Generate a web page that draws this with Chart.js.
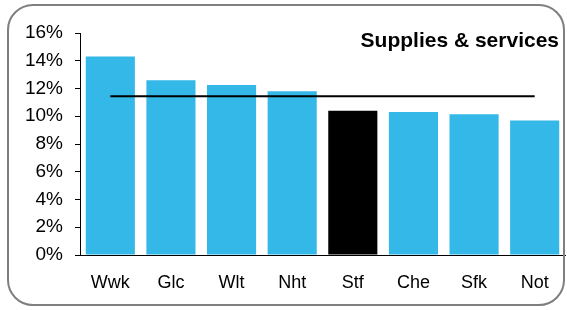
<!DOCTYPE html>
<html>
<head>
<meta charset="utf-8">
<script src="https://cdn.jsdelivr.net/npm/chart.js@4/dist/chart.umd.min.js"></script>
<style>
  html, body { margin: 0; padding: 0; background: #fff; }
  #wrap { position: relative; width: 567px; height: 310px; }
  #frame {
    position: absolute; left: 7px; top: 4px; width: 554px; height: 298px;
    border: 2px solid #7f7f7f; border-radius: 26px; pointer-events: none;
  }
  canvas { position: absolute; left: 0; top: 0; }
</style>
</head>
<body>
<div id="wrap">
  <canvas id="myChart" width="567" height="310"></canvas>
  <div id="frame"></div>
</div>
<script>
(function() {
const labels = ['Wwk', 'Glc', 'Wlt', 'Nht', 'Stf', 'Che', 'Sfk', 'Not'];
const values = [14.3, 12.6, 12.25, 11.8, 10.4, 10.3, 10.15, 9.7];
const average = [11.45, 11.45, 11.45, 11.45, 11.45, 11.45, 11.45, 11.45];
const highlight = 'Stf';
const yTicks = [0, 2, 4, 6, 8, 10, 12, 14, 16];
const title = 'Supplies & services';

const blue = 'rgb(51, 184, 232)';
const font = 'Liberation Sans, Arial, sans-serif';

const titlePlugin = {
    id: 'cornerTitle',
    afterDraw(chart) {
        const ctx = chart.ctx;
        const area = chart.chartArea;
        ctx.save();
        ctx.font = 'bold 21px ' + font;
        ctx.fillStyle = '#000';
        ctx.textAlign = 'right';
        ctx.textBaseline = 'middle';
        ctx.fillText(title, area.right - 6, area.top + 8);
        ctx.restore();
    }
};

const context = document.getElementById('myChart').getContext('2d');
new Chart(context, {
    data: {
        labels: labels,
        datasets: [{
            type: 'line',
            data: average,
            borderColor: '#000',
            borderWidth: 2,
            pointRadius: 0,
            order: 0
        }, {
            type: 'bar',
            data: values,
            backgroundColor: labels.map(l => l === highlight ? '#000' : blue),
            barPercentage: 0.81,
            categoryPercentage: 1,
            order: 1
        }]
    },
    options: {
        responsive: false,
        animation: false,
        layout: { padding: { top: 33, right: 2, bottom: 0, left: 0 } },
        plugins: { legend: { display: false }, tooltip: { enabled: false } },
        scales: {
            x: {
                grid: { display: false },
                border: { display: true, color: '#000', width: 1 },
                ticks: { color: '#000', font: { family: font, size: 18 }, padding: 9 },
                afterFit: s => { s.height = 55; }
            },
            y: {
                min: 0,
                max: 16,
                afterBuildTicks: s => { s.ticks = yTicks.map(v => ({ value: v })); },
                grid: { drawOnChartArea: false, drawTicks: true, tickLength: 5, color: '#000' },
                border: { display: true, color: '#000', width: 1 },
                ticks: {
                    color: '#000',
                    padding: 12,
                    font: { family: font, size: 19 },
                    callback: v => v + '%'
                },
                afterFit: s => { s.width = 80; }
            }
        }
    },
    plugins: [titlePlugin]
});
})();
</script>
</body>
</html>
